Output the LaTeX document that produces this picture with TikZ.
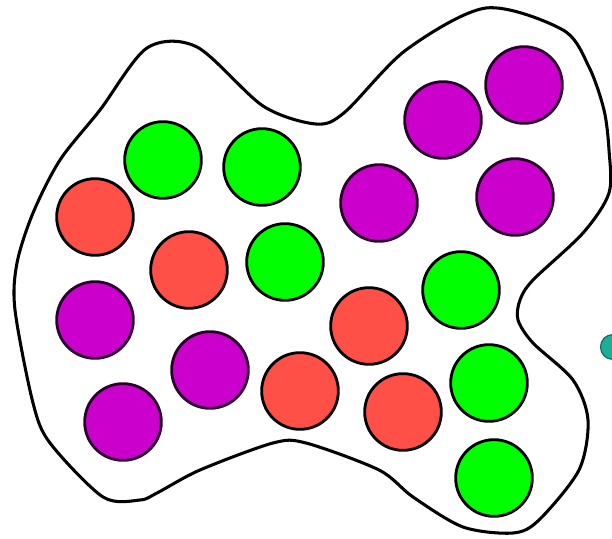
\documentclass[tikz,border=0pt]{standalone}
\usetikzlibrary{positioning}
\definecolor{limeg}{RGB}{0,255,0}
\definecolor{tomred}{RGB}{255,80,72}
\definecolor{magp}{RGB}{204,0,204}
\definecolor{tealc}{RGB}{26,175,150}
\begin{document}
\begin{tikzpicture}[x=0.03cm, y=-0.03cm,
        green/.style={circle, draw=black, fill=limeg, line width=2.4pt, minimum size=2.3cm},
        red/.style={circle, draw=black, fill=tomred, line width=2.4pt, minimum size=2.3cm},
        purple/.style={circle, draw=black!80!magp, fill=magp, line width=2.4pt, minimum size=2.3cm},
        tealdot/.style={circle, draw=tealc!60!black, fill=tealc, line width=1pt, minimum size=0.75cm}
    ]
    \useasboundingbox (0,0) rectangle (612,539);
    \clip (0,0) rectangle (612,539);

    % outline
    \draw[line width=2.6pt, line join=round] plot[smooth cycle, tension=0.5] coordinates {
        (147,48) (197,47) (263,106) (316,124) (345,112) (406,50) (486,8) (563,30)
        (589,67) (604,110) (609,150) (609,193) (583,233) (533,280) (520,300) (518,320)
        (533,343) (573,380) (588,420) (579,470) (539,520) (513,533) (463,527) (413,497)
        (379,470) (306,443) (273,443) (200,470) (157,493) (140,500) (103,497) (50,443)
        (33,403) (15,310) (17,263) (33,213) (60,160) (100,110)};

    % green cells
    \node[green] (g1) at (163,160) {};
    \node[green] (g2) at (262,167) {};
    \node[green] (g3) at (285,262) {};
    \node[green] (g4) at (461,290) {};
    \node[green] (g5) at (489,383) {};
    \node[green] (g6) at (494,478) {};

    % red cells
    \node[red] (r1) at (95,217) {};
    \node[red] (r2) at (189,270) {};
    \node[red] (r3) at (369,326) {};
    \node[red] (r4) at (300,391) {};
    \node[red] (r5) at (403,412) {};

    % purple cells
    \node[purple] (p1) at (443,120) {};
    \node[purple] (p2) at (524,85) {};
    \node[purple] (p3) at (379,203) {};
    \node[purple] (p4) at (515,197) {};
    \node[purple] (p5) at (95,320) {};
    \node[purple] (p6) at (210,370) {};
    \node[purple] (p7) at (123,422) {};

    \node[tealdot] (t1) at (613,347) {};
\end{tikzpicture}
\end{document}
